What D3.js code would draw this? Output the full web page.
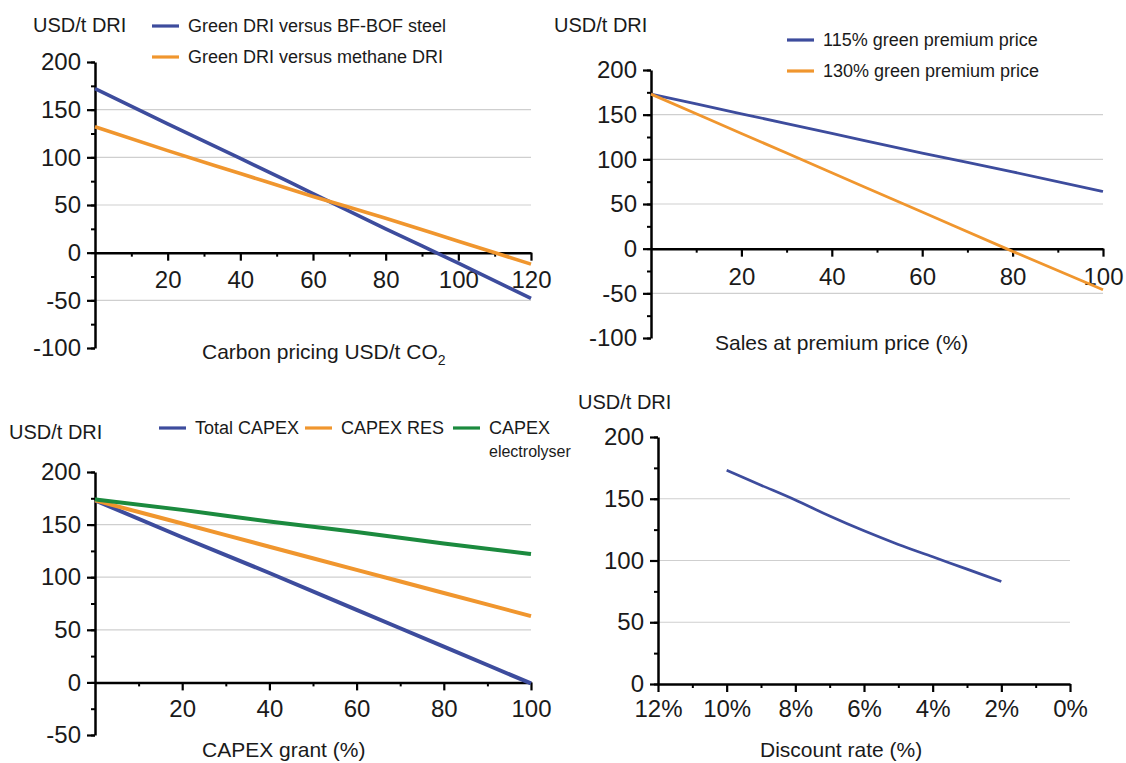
<!DOCTYPE html>
<html>
<head>
<meta charset="utf-8">
<script src="https://cdn.jsdelivr.net/npm/d3@7"></script>
<style>
  body { margin: 0; background: #fff; }
  svg { display: block; font-family: "Liberation Sans", Arial, sans-serif; }
</style>
</head>
<body>
<svg id="chart" width="1126" height="763"></svg>
<script>
// ---- data ----
// panel 1: carbon pricing
const carbonPrice = [0, 20, 40, 60, 80, 100, 120]
const greenVsBfBof = [172, 135, 99, 62, 25, -11, -48]
const greenVsMethane = [132, 107, 83, 59, 36, 12, -12]
const carbonTicks = [20, 40, 60, 80, 100, 120]

// panel 2: premium price sales
const premiumSales = [0, 20, 40, 60, 80, 100]
const premium115 = [173, 151, 129, 107, 86, 64]
const premium130 = [173, 129, 85, 41, -3, -46]
const salesTicks = [20, 40, 60, 80, 100]

// panel 3: capex grant
const capexGrant = [0, 20, 40, 60, 80, 100]
const totalCapex = [173, 138, 104, 69, 34, -1]
const capexRes = [173, 151, 129, 107, 85, 63]
const capexElectrolyser = [174, 164, 153, 143, 132, 122]
const grantTicks = [20, 40, 60, 80, 100]

// panel 4: discount rate
const discountRate = [10, 9, 8, 7, 6, 5, 4, 3, 2]
const discountCost = [173, 161, 149, 136, 124, 113, 103, 93, 83]
const rateTicks = [12, 10, 8, 6, 4, 2, 0]

const yTicksWide = [-100, -50, 0, 50, 100, 150, 200]
const yTicksCapex = [-50, 0, 50, 100, 150, 200]
const yTicksRate = [0, 50, 100, 150, 200]

const BLUE = '#3d4c9d', ORANGE = '#f0962e', GREEN = '#1b8a3e'

const svg = d3.select('#chart')

function zip(xs, ys) { return xs.map((x, i) => [x, ys[i]]) }

function panel(cfg) {
  const x = d3.scaleLinear().domain(cfg.xDomain).range(cfg.xRange)
  const y = d3.scaleLinear().domain(cfg.yDomain).range(cfg.yRange)
  const g = svg.append('g')

  // grid
  g.append('g').selectAll('line')
    .data(cfg.grid)
    .join('line')
    .attr('x1', cfg.xRange[0]).attr('x2', cfg.xRange[1])
    .attr('y1', d => y(d)).attr('y2', d => y(d))
    .attr('stroke', '#cfcfcf').attr('stroke-width', 1.2)

  // minor ticks
  const yMinor = d3.range(cfg.yDomain[0], cfg.yDomain[1] + 1, 25)
  g.append('g').attr('transform', `translate(${cfg.xRange[0]},0)`)
    .call(d3.axisLeft(y).tickValues(yMinor).tickSize(4).tickFormat(''))
    .call(a => a.select('.domain').remove())
    .selectAll('line').attr('stroke-width', 2)
  const x0 = cfg.xAxisAt !== undefined ? y(cfg.xAxisAt) : cfg.yRange[0]
  g.append('g').attr('transform', `translate(0,${x0})`)
    .call(d3.axisBottom(x).tickValues(cfg.xMinor).tickSize(4).tickFormat(''))
    .call(a => a.select('.domain').remove())
    .selectAll('line').attr('stroke-width', 2)

  // y axis
  g.append('g').attr('transform', `translate(${cfg.xRange[0]},0)`)
    .call(d3.axisLeft(y).tickValues(cfg.yTicks).tickSize(8).tickSizeOuter(0)
      .tickPadding(6).tickFormat(d => String(d)))
    .call(a => {
      a.select('.domain').attr('stroke-width', 2.5)
      a.selectAll('.tick line').attr('stroke-width', 2.2)
      a.selectAll('text').attr('font-size', 24).attr('fill', '#1a1a1a')
        .attr('font-family', '"Liberation Sans", Arial, sans-serif')
    })

  // x axis
  g.append('g').attr('transform', `translate(0,${x0})`)
    .call(d3.axisBottom(x).tickValues(cfg.xTicks).tickSize(8).tickSizeOuter(0)
      .tickPadding(cfg.xPad).tickFormat(cfg.xFormat || (d => String(d))))
    .call(a => {
      a.select('.domain').attr('stroke-width', 2.5)
      a.selectAll('.tick line').attr('stroke-width', 2.2)
      a.selectAll('text').attr('font-size', 24).attr('fill', '#1a1a1a')
        .attr('font-family', '"Liberation Sans", Arial, sans-serif')
    })

  // lines
  const line = d3.line().x(d => x(d[0])).y(d => y(d[1])).curve(d3.curveMonotoneX)
  cfg.series.forEach(s => {
    g.append('path')
      .datum(zip(s.xs, s.ys))
      .attr('d', line)
      .attr('fill', 'none')
      .attr('stroke', s.color)
      .attr('stroke-width', cfg.lineWidth)
  })

  // unit label
  g.append('text')
    .attr('x', cfg.unit[0]).attr('y', cfg.unit[1]).attr('dy', '0.35em')
    .attr('font-size', 20).attr('fill', '#1a1a1a')
    .text('USD/t DRI')

  // axis title
  const t = g.append('text')
    .attr('x', cfg.title.x).attr('y', cfg.title.y)
    .attr('font-size', 21).attr('fill', '#1a1a1a')
    .text(cfg.title.text)
  if (cfg.title.sub) {
    t.append('tspan').attr('font-size', 14).attr('dy', 6).text(cfg.title.sub)
  }

  // legend
  cfg.legend.forEach(l => {
    g.append('line')
      .attr('x1', l.x).attr('x2', l.x + 27)
      .attr('y1', l.y).attr('y2', l.y)
      .attr('stroke', l.color).attr('stroke-width', 3.2)
    g.append('text')
      .attr('x', l.x + 36).attr('y', l.y).attr('dy', '0.35em')
      .attr('font-size', 18).attr('fill', '#1a1a1a')
      .text(l.text)
    if (l.text2) {
      g.append('text')
        .attr('x', l.x + 36).attr('y', l.y + 23).attr('dy', '0.35em')
        .attr('font-size', 16).attr('fill', '#1a1a1a')
        .text(l.text2)
    }
  })
}

panel({
  xDomain: [0, 120], xRange: [95, 531],
  yDomain: [-100, 200], yRange: [348, 62],
  xAxisAt: 0, yTicks: yTicksWide, xTicks: carbonTicks,
  xMinor: d3.range(10, 120, 20), xPad: 10,
  grid: [150, 100, 50, -50],
  lineWidth: 3.6,
  series: [
    { xs: carbonPrice, ys: greenVsBfBof, color: BLUE },
    { xs: carbonPrice, ys: greenVsMethane, color: ORANGE }
  ],
  unit: [33, 25],
  title: { x: 202, y: 359, text: 'Carbon pricing USD/t CO', sub: '2' },
  legend: [
    { x: 152, y: 26, color: BLUE, text: 'Green DRI versus BF-BOF steel' },
    { x: 152, y: 57, color: ORANGE, text: 'Green DRI versus methane DRI' }
  ]
})

panel({
  xDomain: [0, 100], xRange: [651, 1103],
  yDomain: [-100, 200], yRange: [338, 70],
  xAxisAt: 0, yTicks: yTicksWide, xTicks: salesTicks,
  xMinor: d3.range(10, 100, 20), xPad: 11,
  grid: [150, 100, 50, -50],
  lineWidth: 2.8,
  series: [
    { xs: premiumSales, ys: premium115, color: BLUE },
    { xs: premiumSales, ys: premium130, color: ORANGE }
  ],
  unit: [554, 25],
  title: { x: 715, y: 350, text: 'Sales at premium price (%)' },
  legend: [
    { x: 787, y: 40, color: BLUE, text: '115% green premium price' },
    { x: 787, y: 71, color: ORANGE, text: '130% green premium price' }
  ]
})

panel({
  xDomain: [0, 100], xRange: [95, 531],
  yDomain: [-50, 200], yRange: [735, 472],
  xAxisAt: 0, yTicks: yTicksCapex, xTicks: grantTicks,
  xMinor: d3.range(10, 100, 20), xPad: 10,
  grid: [150, 100, 50],
  lineWidth: 4,
  series: [
    { xs: capexGrant, ys: totalCapex, color: BLUE },
    { xs: capexGrant, ys: capexRes, color: ORANGE },
    { xs: capexGrant, ys: capexElectrolyser, color: GREEN }
  ],
  unit: [9, 432],
  title: { x: 202, y: 757, text: 'CAPEX grant (%)' },
  legend: [
    { x: 159, y: 428, color: BLUE, text: 'Total CAPEX' },
    { x: 305, y: 428, color: ORANGE, text: 'CAPEX RES' },
    { x: 453, y: 428, color: GREEN, text: 'CAPEX', text2: 'electrolyser' }
  ]
})

panel({
  xDomain: [12, 0], xRange: [658, 1070],
  yDomain: [0, 200], yRange: [684, 437],
  yTicks: yTicksRate, xTicks: rateTicks,
  xMinor: d3.range(11, 0, -2), xPad: 8,
  xFormat: d => d + '%',
  grid: [150, 100, 50],
  lineWidth: 2.7,
  series: [
    { xs: discountRate, ys: discountCost, color: BLUE }
  ],
  unit: [578, 402],
  title: { x: 760, y: 757, text: 'Discount rate (%)' },
  legend: []
})
</script>
</body>
</html>
